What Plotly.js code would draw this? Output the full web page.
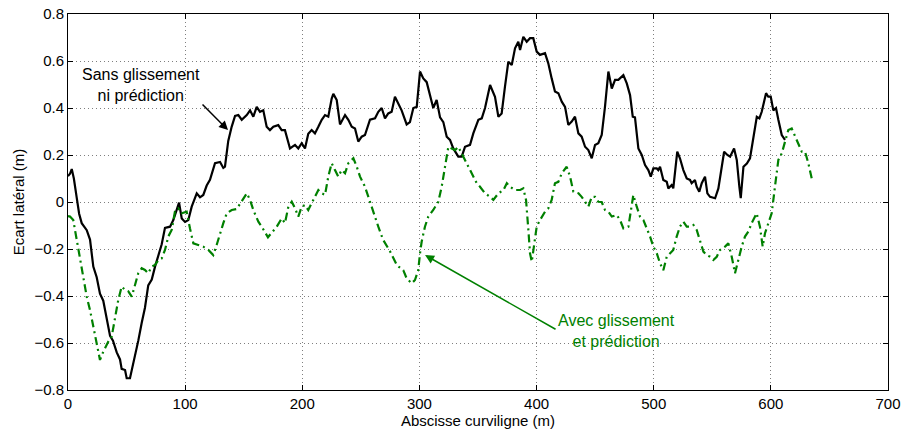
<!DOCTYPE html>
<html>
<head>
<meta charset="utf-8">
<script src="https://cdn.plot.ly/plotly-3.0.1.min.js"></script>
<style>
html,body{margin:0;padding:0;background:#fff;}
#chart{width:904px;height:432px;}
</style>
</head>
<body>
<div id="chart"></div>
<script>
// Série "Sans glissement ni prédiction"
const sansX = [0,1.7,3.2,5,7.4,9.5,11.7,16,18.8,21.6,24.5,27.3,30.1,33,35.9,38.4,41.6,44.4,45.8,48.7,50.1,52.9,54.5,57.2,60,62.9,65.7,68.5,71.5,74.3,77.1,80,82.8,87.1,89.9,92.8,94.8,97.1,99.9,102.7,105.6,109.9,112.7,115.5,118.4,121.2,125.5,129.8,132.6,134,136.8,139.7,142.6,145.4,148.3,152.6,155.4,158.2,161.1,163.9,166.7,169.6,172.4,175.3,179.5,182.4,185.2,189.5,193.8,196.6,199.5,202.3,205.1,208,210.8,213.7,216.6,219.4,222.2,225.1,226.5,229.4,232.2,236.5,239.3,242.2,245,247.8,250.7,253.5,257.8,262.1,264.9,267.8,270.6,273.4,276.3,279.1,282,284.8,289.1,291.9,294.8,297.7,300.5,303.3,306.2,309,311.8,314.7,317.6,320.4,323.3,326.1,328.9,333.2,336.1,338.9,343.2,346,350.3,353.2,356,360.3,364.5,367.4,370.2,373,375.9,378.8,381.6,384.4,385.9,388.7,391.6,394.4,397.2,400.1,402.9,407.2,410,412.9,415.7,418.6,421.5,424.3,427.1,430,432.8,435.7,438.5,441.4,444.2,447.1,449.9,452.7,455.6,458.4,461.3,464.2,467,469.8,474.1,477,479.8,482.1,484,486.9,489.8,492.6,495.4,497.5,499.7,502.6,503.9,505.4,508.2,511.1,512.5,515.3,516.7,520.1,522.4,525.3,528.2,531,532.4,535.2,536.7,538.9,541,543.8,545.8,548.1,552.4,555.2,558.1,560.1,562.9,565.2,568.6,570.9,573.1,574.3,576.6,579.5,582.2,585.1,588,590.2,592.2,594.2,595.9,597.8,599.9,602.1,604.4,606.4,609.3,612.1];
const sansY = [0.11,0.12,0.14,0.10,0.02,-0.05,-0.09,-0.12,-0.16,-0.275,-0.32,-0.39,-0.42,-0.50,-0.57,-0.59,-0.64,-0.67,-0.71,-0.715,-0.75,-0.75,-0.715,-0.645,-0.59,-0.515,-0.45,-0.355,-0.33,-0.275,-0.23,-0.18,-0.11,-0.105,-0.077,-0.034,-0.003,-0.07,-0.085,-0.077,-0.02,0.037,0.02,0.03,0.07,0.094,0.165,0.17,0.145,0.15,0.26,0.32,0.366,0.37,0.35,0.37,0.39,0.363,0.405,0.384,0.39,0.32,0.306,0.32,0.327,0.306,0.306,0.228,0.243,0.228,0.25,0.228,0.29,0.306,0.292,0.32,0.35,0.37,0.363,0.44,0.46,0.434,0.33,0.37,0.35,0.32,0.313,0.257,0.278,0.285,0.35,0.356,0.384,0.40,0.356,0.377,0.384,0.448,0.42,0.39,0.33,0.34,0.40,0.405,0.555,0.526,0.51,0.45,0.40,0.434,0.36,0.34,0.278,0.264,0.228,0.193,0.193,0.235,0.243,0.292,0.35,0.356,0.40,0.498,0.448,0.363,0.377,0.49,0.597,0.583,0.654,0.682,0.647,0.703,0.682,0.697,0.697,0.64,0.626,0.633,0.59,0.526,0.47,0.463,0.427,0.405,0.328,0.342,0.363,0.292,0.278,0.235,0.221,0.186,0.243,0.25,0.285,0.405,0.555,0.483,0.52,0.52,0.54,0.505,0.455,0.363,0.36,0.228,0.2,0.157,0.136,0.108,0.143,0.143,0.136,0.15,0.094,0.086,0.058,0.072,0.058,0.214,0.186,0.136,0.1,0.094,0.08,0.094,0.065,0.044,0.08,0.108,0.037,0.022,0.016,0.058,0.15,0.214,0.2,0.193,0.228,0.179,0.065,0.016,0.15,0.164,0.186,0.27,0.363,0.356,0.384,0.427,0.463,0.448,0.448,0.39,0.40,0.35,0.285,0.264];

// Série "Avec glissement et prédiction"
const avecX = [0,1.7,4.5,7.4,10.2,13.1,16,18.8,21.6,24.5,27.3,30.1,34.4,37.3,40.1,42.9,45.8,48.7,51.5,54.4,57.2,60,62.9,65.7,68.5,71.5,74.3,77.1,80,82.8,85.6,88.5,91.3,94.2,97.1,101.3,104.1,107,111.2,115.5,119.8,124,126.9,129.8,132.6,135.5,139.8,144,148.3,152.6,155.4,158.2,162.5,165.4,170.7,178.2,182.4,185.2,188.1,191,193.8,196.6,199.5,202.3,205.1,209.4,213.7,216.6,219.4,222.2,225.1,227.9,230.7,233.6,236.5,239.3,243.6,246.5,249.3,253.5,256.4,259.2,262.1,264.9,268.9,274.9,280.9,286.2,289.1,293.4,296.2,299,300.5,301.9,304.7,307.6,311.8,316.1,319,321.8,324.7,327.5,330.4,333.2,336.1,340.4,344.6,348.9,351.7,356,360.3,363.1,367.4,371.7,374.6,377.3,381.6,386,388.7,391,393,394.4,395.9,398.7,400.1,402.9,407.2,410,412.9,415.7,418.6,421.5,425.7,428.6,431.4,435.7,438.5,441.4,444.2,447.1,449.9,452.7,455.6,458.4,461.3,464.2,468.4,471.3,474.1,478.4,481.3,482.6,485.5,488.3,491.2,494.1,496.9,499.7,502.6,505.4,508.2,511.1,513.9,516.7,519.6,522.4,525.3,528.2,531,533.9,536.7,539.6,542.4,545.3,548.1,550.9,553.8,556.6,560.9,563.7,566.6,569.4,572.2,575.1,577.9,580.8,583.6,587.9,590.7,593,595,597.8,600.7,603.5,606.4,609.3,612.1,614.9,617.8,620.6,623.5,626.4,629.2,632,634.9];
const avecY = [-0.06,-0.062,-0.077,-0.16,-0.233,-0.318,-0.403,-0.46,-0.53,-0.6,-0.672,-0.637,-0.594,-0.573,-0.502,-0.417,-0.36,-0.374,-0.38,-0.403,-0.353,-0.303,-0.282,-0.289,-0.303,-0.275,-0.268,-0.247,-0.24,-0.204,-0.147,-0.119,-0.041,-0.027,-0.048,-0.041,-0.112,-0.176,-0.183,-0.19,-0.204,-0.226,-0.183,-0.133,-0.09,-0.048,-0.034,-0.03,0.001,0.037,0.009,-0.034,-0.084,-0.105,-0.15,-0.105,-0.07,-0.09,-0.02,0.001,-0.027,-0.062,-0.02,-0.013,-0.034,0.009,0.051,0.037,0.03,0.108,0.165,0.136,0.108,0.136,0.122,0.165,0.186,0.15,0.108,0.065,0.022,-0.02,-0.07,-0.105,-0.16,-0.21,-0.27,-0.29,-0.325,-0.346,-0.332,-0.29,-0.218,-0.169,-0.105,-0.062,-0.034,0.001,0.065,0.15,0.235,0.228,0.221,0.235,0.207,0.165,0.122,0.08,0.065,0.037,0.022,0.009,0.037,0.051,0.08,0.065,0.051,0.051,0.058,0.009,-0.119,-0.218,-0.254,-0.162,-0.105,-0.077,-0.041,-0.027,0.009,0.08,0.086,0.122,0.15,0.108,0.044,0.037,0.022,0.001,-0.02,0.022,0.022,0.001,0.0,-0.034,-0.041,-0.062,-0.055,-0.077,-0.112,-0.105,-0.006,0.03,-0.02,-0.062,-0.077,-0.112,-0.147,-0.19,-0.218,-0.261,-0.29,-0.233,-0.218,-0.204,-0.147,-0.105,-0.084,-0.105,-0.105,-0.098,-0.119,-0.162,-0.211,-0.226,-0.233,-0.247,-0.233,-0.204,-0.19,-0.176,-0.233,-0.303,-0.247,-0.19,-0.147,-0.126,-0.09,-0.048,-0.105,-0.19,-0.133,-0.09,-0.048,0.065,0.179,0.207,0.257,0.306,0.313,0.278,0.243,0.214,0.214,0.165,0.1];

const xTicks = [0,100,200,300,400,500,600,700];
const yTicks = [-0.8,-0.6,-0.4,-0.2,0,0.2,0.4,0.6,0.8];
const yTickText = ['\u22120.8','\u22120.6','\u22120.4','\u22120.2','0','0.2','0.4','0.6','0.8'];

const FONT = 'Liberation Sans, Arial, Helvetica, sans-serif';
const GREEN = 'rgb(0,128,0)';

const traces = [
  {x: sansX, y: sansY, type: 'scatter', mode: 'lines',
   line: {color: '#000', width: 2.2}, hoverinfo: 'skip'},
  {x: avecX, y: avecY, type: 'scatter', mode: 'lines',
   line: {color: GREEN, width: 2.2, dash: '8px,4px,2px,4px'}, hoverinfo: 'skip'}
];

const axisCommon = {
  showline: true, linecolor: '#000', linewidth: 1, mirror: 'ticks',
  ticks: 'inside', ticklen: 5, tickwidth: 1, tickcolor: '#000',
  showgrid: true, gridcolor: 'rgba(0,0,0,0.5)', gridwidth: 1, griddash: '1px,3px',
  zeroline: false, tickfont: {family: FONT, size: 15, color: '#000'}
};

const layout = {
  width: 904, height: 432,
  margin: {l: 68, r: 16, t: 14, b: 42},
  paper_bgcolor: '#fff', plot_bgcolor: '#fff',
  showlegend: false,
  font: {family: FONT, size: 15, color: '#000'},
  xaxis: Object.assign({}, axisCommon, {
    range: [0, 700], tickmode: 'array', tickvals: xTicks,
    title: {text: 'Abscisse curviligne (m)', font: {family: FONT, size: 15, color: '#000'}, standoff: 2}
  }),
  yaxis: Object.assign({}, axisCommon, {
    range: [-0.8, 0.8], tickmode: 'array', tickvals: yTicks, ticktext: yTickText,
    title: {text: 'Ecart latéral (m)', font: {family: FONT, size: 15, color: '#000'}, standoff: 6}
  }),
  annotations: [
    {x: 62.3, y: 0.5, xref: 'x', yref: 'y', text: 'Sans glissement<br>ni prédiction',
     showarrow: false, font: {family: FONT, size: 16, color: '#000'}, align: 'center',
     xanchor: 'center', yanchor: 'middle'},
    {x: 136.6, y: 0.306, xref: 'x', yref: 'y', text: '', showarrow: true,
     ax: -27, ay: -27, arrowhead: 2, arrowsize: 1.2, arrowwidth: 1.5, arrowcolor: '#000', standoff: 0},
    {x: 468.2, y: -0.549, xref: 'x', yref: 'y', text: 'Avec glissement<br>et prédiction',
     showarrow: false, font: {family: FONT, size: 16, color: GREEN}, align: 'center',
     xanchor: 'center', yanchor: 'middle'},
    {x: 304.8, y: -0.226, xref: 'x', yref: 'y', text: '', showarrow: true,
     ax: 132, ay: 75, arrowhead: 2, arrowsize: 1.2, arrowwidth: 1.5, arrowcolor: GREEN, standoff: 0}
  ]
};

Plotly.newPlot('chart', traces, layout, {displayModeBar: false, staticPlot: true});
</script>
</body>
</html>
